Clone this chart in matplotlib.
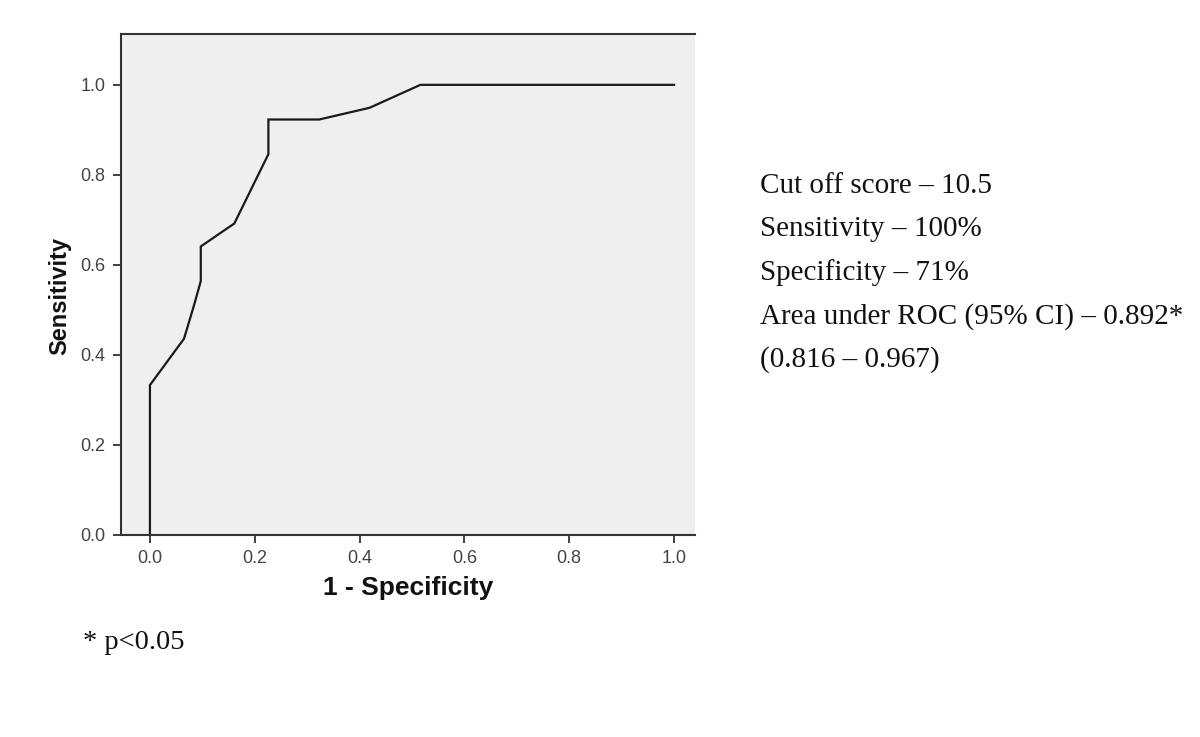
import matplotlib.pyplot as plt

# ROC curve points
fpr = [0.0, 0.0, 0.065, 0.084, 0.097, 0.097, 0.161, 0.226, 0.226, 0.323, 0.419, 0.516, 1.0]
tpr = [0.0, 0.333, 0.436, 0.51, 0.564, 0.641, 0.692, 0.846, 0.923, 0.923, 0.949, 1.0, 1.0]

ticks = [0.0, 0.2, 0.4, 0.6, 0.8, 1.0]
tick_labels = ['0.0', '0.2', '0.4', '0.6', '0.8', '1.0']

notes = [
    'Cut off score \u2013 10.5',
    'Sensitivity \u2013 100%',
    'Specificity \u2013 71%',
    'Area under ROC (95% CI) \u2013 0.892*',
    '(0.816 \u2013 0.967)',
]
footnote = '* p<0.05'

fig = plt.figure(figsize=(12, 7.37), dpi=100)
ax = fig.add_axes([0.1008, 0.2741, 0.4784, 0.6798])
ax.set_facecolor('#efefef')

ax.plot(fpr, tpr, color='#1a1a1a', lw=1.6, solid_joinstyle='miter')

ax.set_xlim(-0.0553, 1.040)
ax.set_ylim(0, 1.113)
ax.set_xticks(ticks)
ax.set_xticklabels(tick_labels)
ax.set_yticks(ticks)
ax.set_yticklabels(tick_labels)

for side in ['left', 'top', 'bottom']:
    ax.spines[side].set_color('#333333')
    ax.spines[side].set_linewidth(1.5)
ax.spines['right'].set_visible(False)

ax.tick_params(direction='out', length=6, width=1.3, color='#333333',
               labelsize=13, labelcolor='#444444', pad=5)
for lab in ax.get_xticklabels() + ax.get_yticklabels():
    lab.set_family('Liberation Sans')

ax.set_xlabel('1 - Specificity', fontsize=19, fontweight='bold',
              family='Liberation Sans', color='#111111', labelpad=6)
ax.set_ylabel('Sensitivity', fontsize=17, fontweight='bold',
              family='Liberation Sans', color='#111111')
ax.yaxis.set_label_coords(-0.086, 0.477)

y0 = 1 - 193 / 737
step = 43.5 / 737
for i, line in enumerate(notes):
    fig.text(760 / 1200, y0 - i * step, line, fontsize=21,
             family='Liberation Serif', color='#111111', va='baseline')

fig.text(83 / 1200, 1 - 649 / 737, footnote, fontsize=20.5,
         family='Liberation Serif', color='#111111', va='baseline')

fig.savefig('out.png', dpi=100, facecolor='white')
